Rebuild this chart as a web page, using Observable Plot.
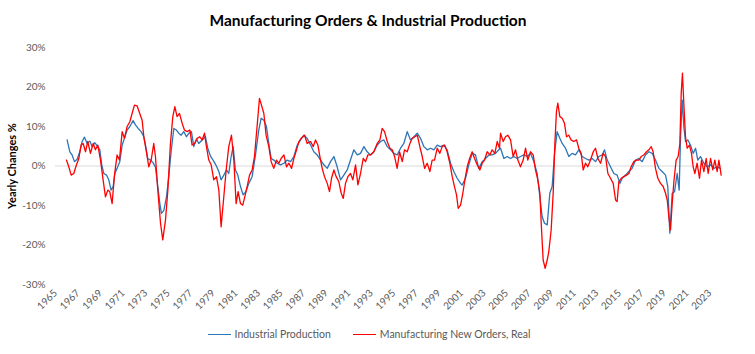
<!DOCTYPE html>
<html><head><meta charset="utf-8">
<script src="https://cdn.jsdelivr.net/npm/d3@7"></script>
<script src="https://cdn.jsdelivr.net/npm/@observablehq/plot@0.6"></script>
<style>
body{margin:0;background:#fff;font-family:Lato,"Open Sans",sans-serif;}
#wrap{width:755px;}
#title{height:36px;line-height:40px;text-align:center;font-weight:bold;font-size:15.5px;color:#000;padding-right:19px;}
#legend{height:28px;display:flex;justify-content:center;align-items:center;font-size:10.5px;color:#595959;padding-right:17px;}
.item{display:flex;align-items:center;margin:0 11px;}
.swatch{width:23px;height:0;border-top:1.5px solid;margin-right:4px;}
#chart svg [aria-label="y-axis label"] text{font-weight:bold;font-size:11px;fill:#000;}
</style></head><body>
<div id="wrap"><div id="title">Manufacturing Orders &amp; Industrial Production</div><div id="chart"></div><div id="legend"></div></div>
<script>
const seriesNames = ["Industrial Production", "Manufacturing New Orders, Real"];
const seriesColors = ["#2E75B6", "#FF0000"];
const xTickYears = [1965,1967,1969,1971,1973,1975,1977,1979,1981,1983,1985,1987,1989,1991,1993,1995,1997,1999,2001,2003,2005,2007,2009,2011,2013,2015,2017,2019,2021,2023];
const yTicks = [-30,-20,-10,0,10,20,30];

const ipYears = [1966.03,1966.27,1966.47,1966.68,1966.92,1967.15,1967.36,1967.57,1967.80,1968.04,1968.25,1968.48,1968.75,1968.93,1969.10,1969.28,1969.52,1969.72,1969.93,1970.11,1970.26,1970.46,1970.70,1970.91,1971.11,1971.35,1971.59,1971.88,1972.09,1972.33,1972.59,1972.83,1972.98,1973.18,1973.42,1973.66,1973.86,1974.07,1974.25,1974.39,1974.60,1974.84,1975.04,1975.25,1975.49,1975.72,1975.93,1976.14,1976.37,1976.61,1976.82,1977.05,1977.26,1977.50,1977.70,1978.00,1978.29,1978.50,1978.74,1978.97,1979.21,1979.48,1979.68,1979.92,1980.16,1980.36,1980.57,1980.75,1980.95,1981.16,1981.40,1981.63,1981.87,1982.14,1982.43,1982.73,1983.02,1983.23,1983.47,1983.70,1983.91,1984.12,1984.35,1984.65,1984.94,1985.25,1985.54,1985.84,1986.13,1986.43,1986.72,1987.02,1987.31,1987.61,1987.90,1988.20,1988.50,1988.79,1989.09,1989.38,1989.68,1989.97,1990.27,1990.56,1990.86,1991.15,1991.45,1991.75,1992.04,1992.34,1992.63,1992.93,1993.22,1993.52,1993.81,1994.11,1994.41,1994.70,1995.00,1995.29,1995.59,1995.88,1996.18,1996.47,1996.77,1997.07,1997.36,1997.66,1997.95,1998.25,1998.54,1998.84,1999.13,1999.43,1999.72,2000.02,2000.31,2000.61,2000.91,2001.05,2001.35,2001.64,2001.94,2002.23,2002.53,2002.83,2003.12,2003.42,2003.71,2004.01,2004.30,2004.45,2004.75,2005.04,2005.34,2005.63,2005.93,2006.22,2006.52,2006.81,2007.11,2007.41,2007.70,2007.94,2008.14,2008.35,2008.59,2008.82,2009.03,2009.24,2009.47,2009.71,2009.92,2010.21,2010.51,2010.80,2011.10,2011.39,2011.69,2011.99,2012.28,2012.58,2012.87,2013.17,2013.46,2013.67,2013.91,2014.20,2014.50,2014.79,2015.03,2015.24,2015.53,2015.83,2016.12,2016.42,2016.71,2017.01,2017.30,2017.60,2017.90,2018.19,2018.49,2018.78,2019.08,2019.28,2019.46,2019.67,2019.88,2020.11,2020.29,2020.41,2020.56,2020.70,2020.85,2021.06,2021.29,2021.53,2021.74,2021.94,2022.18,2022.48,2022.77,2023.07,2023.36,2023.66,2023.95];
const ipValues = [6.6,3.6,2.8,1.1,1.7,3.6,6.2,7.3,5.7,6.3,4.9,5.9,4.9,4.1,0.3,-1.9,-2.3,-3.5,-6.1,-5.2,-1.9,-0.6,1.1,5.3,7.0,9.1,10.0,11.5,10.4,9.5,8.7,7.4,5.3,1.9,1.5,0.8,-0.3,-5.2,-9.5,-12.0,-11.3,-7.8,-2.7,3.6,9.5,9.1,8.3,7.8,8.7,7.4,8.3,8.7,4.9,6.8,5.7,6.6,7.4,4.5,2.5,1.5,0.3,-1.4,-3.5,-2.3,-1.0,-1.9,2.4,4.9,-1.0,-2.3,-5.2,-7.3,-6.5,-4.4,-2.7,2.8,9.1,12.1,11.6,10.0,5.7,1.9,1.5,0.7,0.3,0.7,1.5,1.1,2.4,5.3,6.6,7.8,7.0,5.3,3.6,2.8,1.5,0.3,-0.6,1.1,2.4,-0.2,-3.5,-2.3,-1.0,1.5,4.1,2.8,3.2,4.9,3.6,2.8,3.6,5.3,6.2,6.6,4.9,4.1,3.2,2.8,4.5,5.7,8.7,6.6,7.4,8.3,7.0,4.9,4.1,4.5,4.1,5.3,4.9,5.3,4.1,0.7,-1.4,-3.1,-4.4,-4.8,-3.1,0.3,3.2,2.8,-0.6,1.1,1.9,2.8,2.8,3.2,4.1,4.5,1.9,2.4,1.9,2.4,1.9,2.4,2.8,2.4,3.2,1.1,-1.9,-7.8,-12.8,-14.5,-14.9,-6.9,-5.2,3.2,8.7,7.0,5.7,4.5,2.4,3.2,2.8,4.1,2.4,1.9,1.5,1.9,1.1,2.4,2.8,4.1,1.5,-0.2,-1.9,-2.3,-4.4,-3.1,-2.3,-1.4,-0.6,1.5,1.9,1.1,2.8,3.6,3.2,1.5,-0.6,-1.4,-2.3,-5.2,-17.0,-6.9,-6.5,-1.9,-6.1,7.4,16.7,10.0,6.2,6.6,5.3,3.2,4.5,1.5,2.4,0.7,-0.2,0.3,-0.6,-0.2,-0.6];

const ordersYears = [1965.97,1966.18,1966.39,1966.62,1966.86,1967.07,1967.27,1967.45,1967.66,1967.86,1968.10,1968.34,1968.54,1968.75,1968.99,1969.22,1969.43,1969.64,1969.81,1970.02,1970.23,1970.46,1970.67,1970.91,1971.11,1971.35,1971.59,1971.79,1972.00,1972.24,1972.47,1972.68,1972.83,1973.06,1973.27,1973.48,1973.71,1973.86,1974.07,1974.31,1974.51,1974.75,1974.96,1975.19,1975.40,1975.58,1975.78,1975.99,1976.23,1976.43,1976.67,1976.91,1977.11,1977.32,1977.56,1977.79,1978.00,1978.21,1978.38,1978.59,1978.80,1979.03,1979.27,1979.48,1979.68,1979.92,1980.13,1980.36,1980.60,1980.81,1981.01,1981.19,1981.40,1981.60,1981.78,1981.99,1982.20,1982.43,1982.64,1982.87,1983.08,1983.26,1983.47,1983.67,1983.91,1984.12,1984.35,1984.59,1984.80,1985.00,1985.25,1985.48,1985.69,1985.93,1986.13,1986.37,1986.58,1986.78,1987.08,1987.31,1987.61,1987.85,1988.05,1988.26,1988.44,1988.64,1988.85,1989.09,1989.29,1989.47,1989.68,1989.88,1990.12,1990.33,1990.51,1990.71,1990.92,1991.15,1991.36,1991.60,1991.81,1992.04,1992.28,1992.49,1992.69,1992.93,1993.22,1993.52,1993.76,1993.96,1994.17,1994.41,1994.64,1994.85,1995.06,1995.29,1995.50,1995.74,1995.94,1996.18,1996.42,1996.62,1996.86,1997.07,1997.30,1997.51,1997.72,1997.95,1998.19,1998.39,1998.60,1998.84,1999.07,1999.28,1999.49,1999.72,1999.96,2000.17,2000.37,2000.55,2000.70,2000.91,2001.11,2001.29,2001.50,2001.71,2001.94,2002.15,2002.38,2002.62,2002.83,2003.03,2003.27,2003.51,2003.71,2003.95,2004.16,2004.36,2004.45,2004.69,2004.89,2005.10,2005.34,2005.57,2005.78,2005.99,2006.22,2006.46,2006.67,2006.87,2007.11,2007.35,2007.55,2007.76,2007.94,2008.06,2008.23,2008.41,2008.59,2008.73,2008.94,2009.12,2009.27,2009.41,2009.53,2009.71,2009.92,2010.12,2010.30,2010.51,2010.71,2010.95,2011.19,2011.39,2011.60,2011.78,2011.99,2012.19,2012.43,2012.67,2012.87,2013.08,2013.32,2013.55,2013.76,2013.97,2014.20,2014.44,2014.65,2014.79,2014.94,2015.15,2015.38,2015.62,2015.83,2016.03,2016.27,2016.51,2016.71,2016.92,2017.16,2017.39,2017.60,2017.81,2017.98,2018.19,2018.40,2018.63,2018.87,2019.08,2019.23,2019.37,2019.52,2019.67,2019.82,2020.02,2020.20,2020.35,2020.47,2020.58,2020.70,2020.85,2021.00,2021.20,2021.38,2021.53,2021.68,2021.88,2022.09,2022.27,2022.48,2022.68,2022.86,2023.07,2023.27,2023.45,2023.66,2023.81,2024.01];
const ordersValues = [1.5,-0.2,-2.3,-1.9,0.3,1.9,5.3,5.7,3.6,6.2,3.2,5.7,4.1,5.3,1.5,-3.5,-7.8,-6.1,-6.5,-9.5,-2.3,2.8,1.5,8.7,7.0,10.0,11.2,13.3,15.4,15.2,13.3,11.6,7.4,3.6,-0.2,1.5,5.7,2.4,-6.1,-14.5,-18.7,-13.7,-6.1,5.7,12.5,15.0,12.5,13.3,10.8,9.1,8.7,9.1,5.3,5.7,7.0,7.4,6.6,8.3,4.9,1.5,0.3,-3.5,-2.7,-6.1,-15.4,-7.8,-1.0,4.9,7.8,1.5,-9.5,-6.5,-9.5,-9.9,-7.8,-5.2,-2.3,-1.0,2.4,10.0,17.1,15.4,13.3,7.8,4.9,1.1,-0.6,1.5,0.7,1.9,2.8,-0.2,0.7,-0.6,1.9,4.1,6.2,7.0,7.8,5.7,6.2,4.9,6.6,5.3,2.4,-0.6,-2.7,-4.4,-6.5,-3.1,-1.0,-2.7,-4.0,-6.9,-8.2,-4.4,-2.7,-1.9,-3.5,0.3,-4.8,-1.9,1.9,1.1,2.8,2.8,3.6,5.7,6.6,9.5,8.7,6.2,4.5,4.1,2.4,-0.6,3.6,1.1,4.1,3.6,5.7,7.0,7.4,7.8,4.9,2.4,-0.6,0.7,-1.4,1.5,1.5,4.5,3.2,4.9,5.3,3.6,0.7,-2.7,-5.2,-7.3,-10.7,-9.9,-6.9,-3.5,-0.2,1.9,3.6,1.9,0.3,-1.0,0.7,1.5,3.6,2.8,4.1,3.2,6.2,4.5,8.3,6.2,7.4,7.8,6.6,2.4,4.1,1.5,-0.2,1.5,4.5,1.5,3.6,2.8,-1.0,-3.5,-6.9,-14.5,-23.8,-25.9,-23.8,-21.7,-16.2,-6.9,5.7,13.8,15.9,12.5,12.1,10.8,7.4,7.8,6.6,6.2,6.6,4.5,3.2,-1.0,0.7,-0.2,1.5,3.6,4.5,1.9,0.7,3.2,2.4,-1.9,-3.1,-4.4,-8.6,-9.0,-4.0,-3.1,-2.7,-2.3,-1.9,-0.2,1.1,1.5,1.5,2.4,2.8,3.6,4.1,4.9,3.6,-0.6,-3.1,-4.4,-5.2,-6.9,-8.6,-12.8,-16.2,-9.5,-4.0,1.5,2.4,5.7,18.4,23.5,15.9,7.4,4.5,5.3,3.2,-0.2,-1.9,0.7,-3.1,1.5,-1.4,1.9,-1.9,1.9,-1.0,1.5,-1.4,1.5,-2.3];

const ip = ipYears.map((year, i) => ({year, value: ipValues[i]}));
const orders = ordersYears.map((year, i) => ({year, value: ordersValues[i]}));

const chart = Plot.plot({
  width: 755, height: 284,
  marginTop: 11, marginBottom: 36, marginLeft: 55, marginRight: 33,
  style: {fontFamily: "Lato, 'Open Sans', sans-serif", fontSize: "10px", color: "#595959", background: "#fff", overflow: "visible"},
  x: {domain: [1965, 2024.13]},
  y: {domain: [-30, 30]},
  marks: [
    Plot.axisX(xTickYears, {tickFormat: d => String(d), tickRotate: -45, tickSize: 0, tickPadding: 7, label: null}),
    Plot.axisY(yTicks, {tickFormat: d => d + "%", tickSize: 0, tickPadding: 10, label: "Yearly Changes %", labelArrow: "none", labelAnchor: "center", labelOffset: 47}),
    Plot.ruleY([0], {stroke: "#d9d9d9", strokeWidth: 1}),
    Plot.line(ip, {x: "year", y: "value", stroke: seriesColors[0], strokeWidth: 1.3}),
    Plot.line(orders, {x: "year", y: "value", stroke: seriesColors[1], strokeWidth: 1.3})
  ]
});
document.getElementById("chart").appendChild(chart);

const legend = document.getElementById("legend");
seriesNames.forEach((name, i) => {
  const item = document.createElement("div");
  item.className = "item";
  const sw = document.createElement("span");
  sw.className = "swatch";
  sw.style.borderTopColor = seriesColors[i];
  const t = document.createElement("span");
  t.textContent = name;
  item.appendChild(sw); item.appendChild(t);
  legend.appendChild(item);
});
</script>
</body></html>
